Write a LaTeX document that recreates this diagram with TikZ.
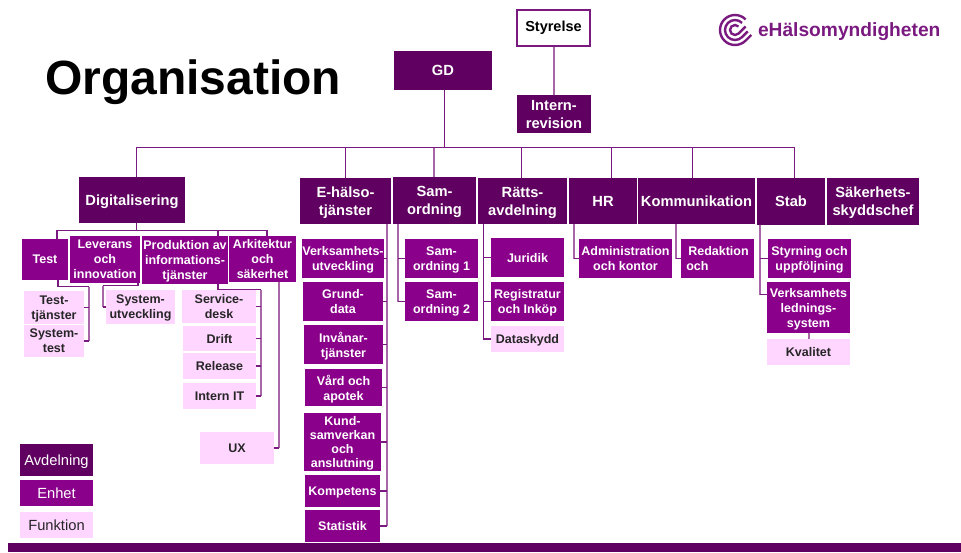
\documentclass[tikz,border=0pt]{standalone}
\usepackage{fontspec}
\setmainfont{Liberation Sans}
\definecolor{c600060}{RGB}{96,0,96}
\definecolor{c8b008b}{RGB}{139,0,139}
\definecolor{cffd6ff}{RGB}{255,214,255}
\definecolor{c7a1a80}{RGB}{122,26,128}
\definecolor{ca866a8}{RGB}{168,102,168}
\tikzset{
  avdelning/.style={fill=c600060,text=white,font=\bfseries\fontsize{14.7}{18}\selectfont,align=center,text depth=0pt},
  enhet/.style={fill=c8b008b,text=white,font=\bfseries\fontsize{12.5}{15}\selectfont,align=center,text depth=0pt},
  funktion/.style={fill=cffd6ff,text=black!85,font=\bfseries\fontsize{12.5}{15}\selectfont,align=center,text depth=0pt},
  legendtext/.style={font=\fontsize{14.7}{18}\selectfont},
  link/.style={draw=c7a1a80,line width=1.1pt,line join=miter},
  trunk/.style={draw=ca866a8,line width=1.7pt},
}
\begin{document}
\begin{tikzpicture}[x=1pt,y=-1pt,inner sep=0pt,outer sep=0pt]
  \useasboundingbox (0,0) rectangle (961,552);
  % lines
  \coordinate (bus) at (445,147.5);
  \draw[link] (444.5,90) -- (444.5,147.5);
  \draw[trunk] (554,46) -- (554,95);
  \coordinate (digbus) at (136.5,230.5);
  \draw[link] (136.5,177) |- (bus) -| (794.5,178);
  \foreach \x in {345.5,521.5,611.5,692.5}
    \draw[link] (\x,147.5) -- (\x,178);
  \draw[trunk] (434,148) -- (434,177);
  \draw[link] (136.5,223) -- (digbus);
  \draw[link] (57,239) |- (digbus) -| (267,236);
  \draw[link] (218,230.5) -- (218,236);
  \coordinate (testbus) at (89,286.5);
  \coordinate (levbus) at (103,285.5);
  \coordinate (prodbus) at (261,289.5);
  \coordinate (arkbus) at (279,282);
  \coordinate (ehbus) at (387,224);
  \coordinate (sambus) at (398,224);
  \coordinate (rattsbus) at (483.5,224);
  \coordinate (hrbus) at (574,224);
  \coordinate (kommbus) at (676,224);
  \coordinate (stabbus) at (760,225);
  % avdelningar
  \node[fill=white,draw=c7a1a80,line width=1.1pt,font=\bfseries\fontsize{14.5}{15}\selectfont,minimum width=73pt,minimum height=36pt] (styrelse) at (553.5,28) {Styrelse};
  \node[avdelning,minimum width=98pt,minimum height=39pt] (gd) at (443,70.5) {GD};
  \node[avdelning,minimum width=74pt,minimum height=38pt] (internrev) at (554,114) {Intern-\\revision};
  \node[anchor=base west,font=\bfseries\fontsize{48}{50}\selectfont] (rubrik) at (45,94) {Organisation};
  \node[avdelning,minimum width=106pt,minimum height=46pt] (digital) at (132,200) {Digitalisering};
  \node[avdelning,minimum width=91pt,minimum height=46pt] (ehalso) at (345.5,201) {E-hälso-\\tjänster};
  \node[avdelning,minimum width=83pt,minimum height=47pt] (samord) at (434.5,200.5) {Sam-\\ordning};
  \node[avdelning,minimum width=89pt,minimum height=46pt] (ratts) at (522.5,201) {Rätts-\\avdelning};
  \node[avdelning,minimum width=68pt,minimum height=46pt] (hr) at (603,201) {HR};
  \node[avdelning,minimum width=117pt,minimum height=46pt] (komm) at (696.5,201) {Kommunikation};
  \node[avdelning,minimum width=68pt,minimum height=47pt] (stab) at (791,201.5) {Stab};
  \node[avdelning,minimum width=92pt,minimum height=47pt] (sakerhet) at (873,201.5) {Säkerhets-\\skyddschef};
  % digitalisering
  \node[enhet,minimum width=46pt,minimum height=41pt] (test) at (45,259.5) {Test};
  \node[enhet,minimum width=70pt,minimum height=47pt] (leverans) at (105,259.5) {Leverans\\och\\innovation};
  \node[enhet,minimum width=86pt,minimum height=48pt] (produktion) at (185,260) {Produktion av\\informations-\\tjänster};
  \node[enhet,minimum width=67pt,minimum height=46pt] (arkitektur) at (262.5,259) {Arkitektur\\och\\säkerhet};
  \node[funktion,minimum width=60pt,minimum height=33pt] (testtj) at (54,307.5) {Test-\\tjänster};
  \node[funktion,minimum width=60pt,minimum height=32pt] (systest) at (54,341) {System-\\test};
  \node[funktion,minimum width=69pt,minimum height=34pt] (sysutv) at (140.5,307) {System-\\utveckling};
  \node[funktion,minimum width=74pt,minimum height=33pt] (service) at (219,306.5) {Service-\\desk};
  \node[funktion,minimum width=73pt,minimum height=25pt] (drift) at (219.5,338.5) {Drift};
  \node[funktion,minimum width=73pt,minimum height=26pt] (release) at (219.5,366) {Release};
  \node[funktion,minimum width=73pt,minimum height=26pt] (internit) at (219.5,396) {Intern IT};
  \node[funktion,minimum width=74pt,minimum height=32pt] (ux) at (237,448) {UX};
  % e-halso
  \node[enhet,minimum width=82pt,minimum height=39pt] (verks) at (343,258.5) {Verksamhets-\\utveckling};
  \node[enhet,minimum width=80pt,minimum height=39pt] (grund) at (343,301.5) {Grund-\\data};
  \node[enhet,minimum width=79pt,minimum height=39pt] (invanar) at (343.5,344.5) {Invånar-\\tjänster};
  \node[enhet,minimum width=77pt,minimum height=37pt] (vard) at (343.5,387.5) {Vård och\\apotek};
  \node[enhet,font=\bfseries\fontsize{12.5}{14}\selectfont,minimum width=77pt,minimum height=58pt] (kund) at (342.5,442) {Kund-\\samverkan\\och\\anslutning};
  \node[enhet,minimum width=75pt,minimum height=32pt] (kompetens) at (342.5,491) {Kompetens};
  \node[enhet,minimum width=75pt,minimum height=32pt] (statistik) at (342.5,526) {Statistik};
  % samordning, ratts
  \node[enhet,minimum width=73pt,minimum height=39pt] (sam1) at (441.5,258.5) {Sam-\\ordning 1};
  \node[enhet,minimum width=73pt,minimum height=39pt] (sam2) at (441.5,301.5) {Sam-\\ordning 2};
  \node[enhet,minimum width=73pt,minimum height=39pt] (juridik) at (527.5,257.5) {Juridik};
  \node[enhet,minimum width=73pt,minimum height=39pt] (registr) at (527.5,301.5) {Registratur\\och Inköp};
  \node[funktion,minimum width=73pt,minimum height=26pt] (dataskydd) at (527.5,339) {Dataskydd};
  % hr, komm, stab
  \node[enhet,minimum width=93pt,minimum height=39pt] (admin) at (625.5,258.5) {Administration\\och kontor};
  \node[enhet,align=left,minimum width=73pt,minimum height=39pt] (redaktion) at (717.5,258.5) {\hspace*{2pt}Redaktion\\och};
  \node[enhet,minimum width=83pt,minimum height=39pt] (styrning) at (809.5,258.5) {Styrning och\\uppföljning};
  \node[enhet,minimum width=83pt,minimum height=51pt] (vls) at (808.5,307.5) {Verksamhets\\lednings-\\system};
  \node[funktion,minimum width=83pt,minimum height=26pt] (kvalitet) at (808.5,352) {Kvalitet};
  % legend
  \node[avdelning,legendtext,minimum width=73pt,minimum height=32pt] (legavd) at (56.5,460) {Avdelning};
  \node[enhet,legendtext,minimum width=73pt,minimum height=26pt] (legenh) at (56.5,493) {Enhet};
  \node[funktion,legendtext,minimum width=73pt,minimum height=26pt] (legfun) at (56.5,525) {Funktion};
  \fill[c600060] (8,543) rectangle (961,552);
  % logo
  \begin{scope}[c7a1a80,line width=2.4pt]
    \foreach \r/\l in {15/8,10/8,5/10}
      \draw ([shift={(-45:\r)}]735,30) arc[start angle=-45,end angle=-315,radius=\r] -- ++(-45:\l);
  \end{scope}
  \node[anchor=base west,text=c7a1a80,font=\bfseries\fontsize{19.2}{24}\selectfont] (logotext) at (758,36) {eHälsomyndigheten};
  % trees
  \draw[link] (test.south -| 58,0) |- (testbus);
  \draw[trunk] (testbus) -- (testbus |- systest);
  \draw[link] (testbus |- testtj) -- (testtj);
  \draw[link] (testbus |- systest) -- (systest);
  \draw[link] (leverans.south -| 138,0) |- (levbus);
  \draw[trunk] (levbus) -- (levbus |- sysutv);
  \draw[link] (levbus |- sysutv) -- (sysutv);
  \draw[link] (produktion.south -| 218,0) |- (prodbus);
  \draw[trunk] (prodbus) -- (prodbus |- internit);
  \foreach \n in {service,drift,release,internit}
    \draw[link] (prodbus |- \n) -- (\n);
  \draw[trunk] (arkbus) -- (arkbus |- ux);
  \draw[link] (arkbus |- ux) -- (ux);
  \draw[trunk] (ehbus) -- (ehbus |- statistik);
  \foreach \n in {verks,grund,invanar,vard,kund,kompetens,statistik}
    \draw[link] (ehbus |- \n) -- (\n);
  \draw[trunk] (sambus) -- (sambus |- sam2);
  \foreach \n in {sam1,sam2}
    \draw[link] (sambus |- \n) -- (\n);
  \draw[link] (rattsbus) |- (dataskydd.west);
  \foreach \n in {juridik,registr}
    \draw[link] (rattsbus |- \n) -- (\n);
  \draw[trunk] (hrbus) -- (hrbus |- admin);
  \draw[link] (hrbus |- admin) -- (admin);
  \draw[trunk] (kommbus) -- (kommbus |- redaktion);
  \draw[link] (kommbus |- redaktion) -- (redaktion);
  \draw[trunk] (stabbus) -- (760,294.5);
  \draw[link] (stabbus |- styrning) -- (styrning);
  \draw[link] (760,294.5) -- (767,294.5);
  \draw[trunk] (vls.south -| 809,0) -- (kvalitet.north -| 809,0);
\end{tikzpicture}
\end{document}
